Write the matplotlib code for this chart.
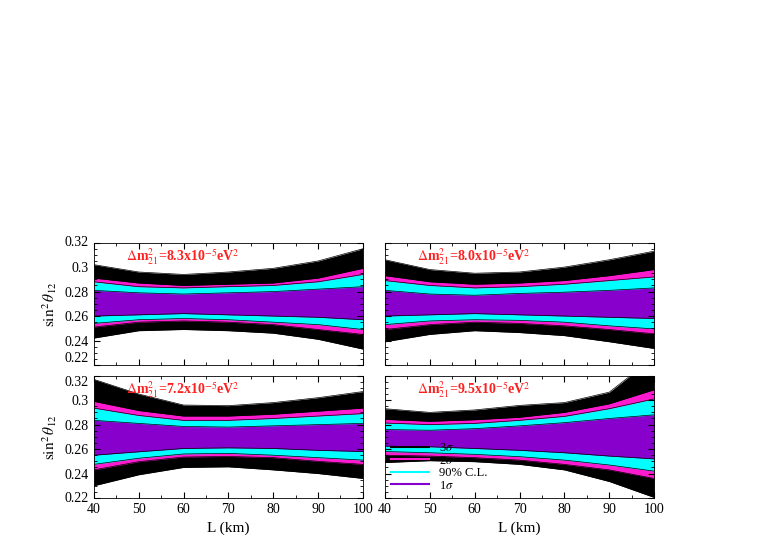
import numpy as np
import matplotlib.pyplot as plt
from matplotlib.ticker import MultipleLocator

plt.rcParams['font.family'] = 'Liberation Serif'
plt.rcParams['mathtext.fontset'] = 'stix'

L = [40, 50, 60, 70, 80, 90, 100]

# panel: label, [3s up, 2s up, 90 up, 1s up, 1s lo, 90 lo, 2s lo, 3s lo]
p83 = [[.302, .296, .294, .296, .299, .305, .315],
       [.291, .287, .285, .286, .287, .291, .299],
       [.288, .284, .283, .284, .285, .288, .294],
       [.281, .279, .278, .279, .280, .282, .284],
       [.260, .261, .262, .261, .260, .259, .257],
       [.254, .257, .258, .257, .255, .253, .249],
       [.251, .255, .256, .255, .253, .249, .245],
       [.242, .248, .249, .248, .246, .241, .233]]
p80 = [[.306, .298, .295, .296, .300, .306, .313],
       [.293, .288, .286, .287, .289, .293, .298],
       [.289, .285, .283, .284, .286, .289, .292],
       [.281, .278, .277, .2785, .2795, .281, .283],
       [.260, .261, .262, .261, .260, .259, .258],
       [.253, .256, .257, .2565, .255, .252, .2495],
       [.249, .253, .255, .254, .252, .249, .2455],
       [.239, .245, .248, .2465, .244, .239, .2335]]
p72 = [[.317, .305, .296, .2955, .298, .302, .307],
       [.299, .2915, .287, .287, .2885, .291, .2935],
       [.2935, .2875, .2835, .2835, .285, .287, .289],
       [.2835, .281, .2785, .278, .279, .280, .281],
       [.255, .2578, .2605, .261, .2605, .259, .258],
       [.2475, .2525, .256, .2565, .255, .253, .251],
       [.243, .2497, .2535, .254, .253, .250, .2475],
       [.230, .239, .245, .2455, .243, .240, .236]]
p95 = [[.293, .290, .292, .2957, .298, .3065, .335],
       [.2843, .2827, .284, .286, .290, .297, .3085],
       [.2813, .280, .281, .2835, .2867, .293, .301],
       [.276, .2754, .2767, .279, .2816, .285, .288],
       [.2624, .2619, .2605, .259, .257, .2543, .252],
       [.258, .257, .2557, .2538, .251, .247, .242],
       [.255, .2543, .253, .251, .2475, .243, .236],
       [.249, .2505, .2497, .2475, .243, .2335, .2205]]

labels = ['8.3', '8.0', '7.2', '9.5']
panels = [p83, p80, p72, p95]
colors = ['black', '#ff1ad0', '#00ffff', '#8800cc']
names = [r'3$\sigma$', r'2$\sigma$', '90% C.L.', r'1$\sigma$']

fig = plt.figure(figsize=(7.63, 5.45), dpi=100)
pos = [[0.123, 0.3303], [0.5046, 0.3303], [0.123, 0.0862], [0.5046, 0.0862]]

for i in range(4):
    ax = fig.add_axes([pos[i][0], pos[i][1], 0.3526, 0.2245])
    d = panels[i]
    for k in range(4):
        ax.fill_between(L, d[7 - k], d[k], color=colors[k], lw=0)
        ax.plot(L, d[k], color='black', lw=0.5)
        ax.plot(L, d[7 - k], color='black', lw=0.5)
    ax.set_xlim(40, 100)
    ax.set_ylim(0.22, 0.32)
    ax.xaxis.set_major_locator(MultipleLocator(10))
    ax.xaxis.set_minor_locator(MultipleLocator(5))
    ax.yaxis.set_minor_locator(MultipleLocator(0.005))
    ax.tick_params(which='both', direction='in', top=True, right=True, labelsize=10)
    ax.tick_params(which='major', length=4)
    ax.tick_params(which='minor', length=2)
    for s in ax.spines.values():
        s.set_linewidth(0.6)
    ax.set_yticks([0.22, 0.24, 0.26, 0.28, 0.3, 0.32])
    if i % 2 == 1:
        ax.set_yticklabels([])
    else:
        ylabs = ['0.22', '0.24', '0.26', '0.28', '0.3', '0.32']
        ax.set_yticklabels(ylabs)
        # keep the stacked 0.22 / 0.32 labels apart
        ax.get_yticklabels()[0].set_va('bottom' if i == 0 else 'center')
        ax.get_yticklabels()[-1].set_va('top' if i == 2 else 'center')
        ax.set_ylabel(r'$\sin^2\theta_{12}$', fontsize=11)
    if i < 2:
        ax.set_xticklabels([])
    else:
        ax.set_xlabel('L (km)', fontsize=11)
    ax.text(0.12, 0.85, r'$\Delta$m$^2_{21}$=' + labels[i] + r'x10$^{-5}$eV$^2$',
            transform=ax.transAxes, color='#ff2020', fontsize=10, fontweight='bold')
    if i == 3:
        for k in range(4):
            ax.plot([], [], color=colors[k], lw=1.5, label=names[k])
        ax.legend(loc='lower left', frameon=False, fontsize=9, handlelength=3,
                  labelspacing=0.05, borderaxespad=0.1)

fig.savefig('out.png', dpi=100)
